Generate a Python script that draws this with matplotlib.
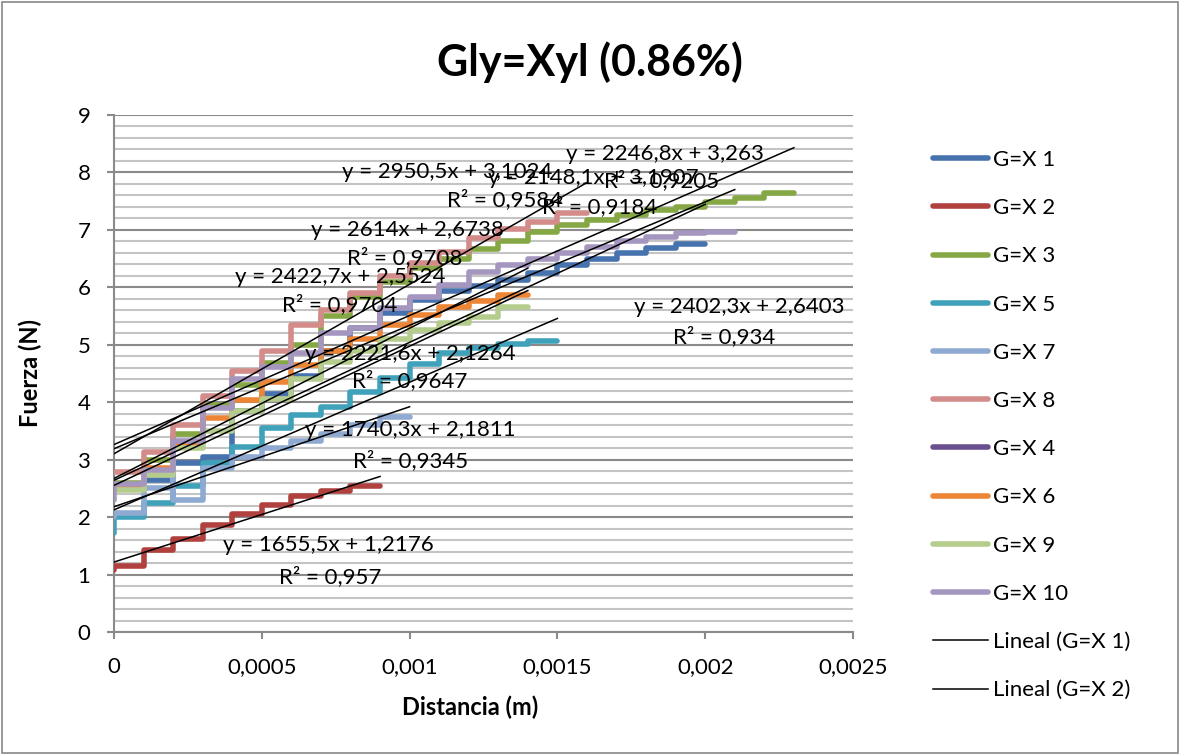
import matplotlib
matplotlib.use('Agg')
import matplotlib.pyplot as plt
from matplotlib.ticker import MultipleLocator, FuncFormatter
from matplotlib.lines import Line2D
from matplotlib.patches import Rectangle

plt.rcParams['font.family'] = ['Lato', 'DejaVu Sans']

# distance samples (m)
dist = [0, 0.0001, 0.0002, 0.0003, 0.0004, 0.0005, 0.0006, 0.0007, 0.0008,
        0.0009, 0.001, 0.0011, 0.0012, 0.0013, 0.0014, 0.0015, 0.0016, 0.0017,
        0.0018, 0.0019, 0.002, 0.0021, 0.0022, 0.0023]

# force level (N) held over each distance step
g1 = [2.5, 2.65, 2.95, 3.05, 3.85, 4.15, 4.45, 4.9, 5.3, 5.55, 5.78, 5.93,
      6.02, 6.13, 6.25, 6.38, 6.5, 6.6, 6.68, 6.75]
g2 = [1.15, 1.43, 1.62, 1.86, 2.06, 2.21, 2.36, 2.45, 2.55]
g3 = [2.6, 3.0, 3.45, 3.95, 4.3, 4.68, 5.0, 5.5, 5.84, 6.1, 6.33, 6.5, 6.66,
      6.8, 6.96, 7.08, 7.17, 7.26, 7.34, 7.4, 7.48, 7.55, 7.64]
g5 = [2.0, 2.24, 2.55, 2.95, 3.22, 3.55, 3.78, 3.92, 4.18, 4.42, 4.67, 4.85,
      4.95, 5.02, 5.07]
g7 = [2.07, 2.5, 2.3, 2.85, 3.05, 3.2, 3.33, 3.45, 3.6, 3.75]
g8 = [2.78, 3.14, 3.6, 4.1, 4.55, 4.9, 5.35, 5.6, 5.9, 6.2, 6.42, 6.62, 6.85,
      7.02, 7.14, 7.3]
g4 = []
g6 = [2.52, 2.85, 3.29, 3.72, 4.04, 4.36, 4.65, 4.9, 5.1, 5.35, 5.52, 5.65,
      5.76, 5.87]
g9 = [2.47, 2.73, 3.2, 3.5, 3.85, 4.05, 4.4, 4.7, 4.9, 5.1, 5.25, 5.38, 5.49,
      5.65]
g10 = [2.58, 2.82, 3.33, 3.9, 4.4, 4.62, 4.85, 5.2, 5.3, 5.64, 5.84, 6.04,
       6.27, 6.39, 6.5, 6.6, 6.71, 6.8, 6.88, 6.94, 6.97]

# first reading at x = 0 (before the first level), where visible
start = {'G=X 2': 1.08, 'G=X 5': 1.72, 'G=X 7': 2.0, 'G=X 10': 2.3}
# light-blue series goes up then back down at 0.0002
g7_peak = 2.7

names = ['G=X 1', 'G=X 2', 'G=X 3', 'G=X 5', 'G=X 7', 'G=X 8', 'G=X 4',
         'G=X 6', 'G=X 9', 'G=X 10']
levels = [g1, g2, g3, g5, g7, g8, g4, g6, g9, g10]
colors = ['#4672AE', '#B0413E', '#86A844', '#3FA1BA', '#8EAAD2', '#D38C8A',
          '#6B5090', '#EC8535', '#B5CD8C', '#A596C0']

# linear trendlines (slope, intercept, R2) per series; G=X 4 has none
trend = {
    'G=X 1': (2402.3, 2.6403, '0,934', '2402,3x + 2,6403'),
    'G=X 2': (1655.5, 1.2176, '0,957', '1655,5x + 1,2176'),
    'G=X 3': (2246.8, 3.263, '0,9205', '2246,8x + 3,263'),
    'G=X 5': (2221.6, 2.1264, '0,9647', '2221,6x + 2,1264'),
    'G=X 7': (1740.3, 2.1811, '0,9345', '1740,3x + 2,1811'),
    'G=X 8': (2950.5, 3.1024, '0,9584', '2950,5x + 3,1024'),
    'G=X 6': (2614.0, 2.6738, '0,9708', '2614x + 2,6738'),
    'G=X 9': (2422.7, 2.5524, '0,9704', '2422,7x + 2,5524'),
    'G=X 10': (2148.1, 3.1907, '0,9184', '2148,1x + 3,1907'),
}
# label positions (data coords): equation, then R2
label_pos = {
    'G=X 1': ((0.002115, 5.66), (0.002064, 5.14)),
    'G=X 2': ((0.000726, 1.51), (0.00073, 0.97)),
    'G=X 3': ((0.001865, 8.32), (0.001851, 7.85)),
    'G=X 5': ((0.001003, 4.84), (0.001, 4.37)),
    'G=X 7': ((0.001003, 3.52), (0.001003, 2.99)),
    'G=X 8': ((0.001128, 8.01), (0.001321, 7.52)),
    'G=X 6': ((0.000993, 7.0), (0.000983, 6.51)),
    'G=X 9': ((0.000764, 6.18), (0.000764, 5.69)),
    'G=X 10': ((0.001622, 7.90), (0.001642, 7.40)),
}

fig = plt.figure(figsize=(11.8, 7.55), dpi=100)
fig.patches.append(Rectangle((0.0015, 0.002), 0.997, 0.996, transform=fig.transFigure,
                             fill=False, edgecolor='#888888', linewidth=1.2))
ax = fig.add_axes([0.0966, 0.1629, 0.6263, 0.6848])

ends = {}
for name, lv, c in zip(names, levels, colors):
    if len(lv) == 0:
        ax.plot([], [], color=c, lw=4.0, label=name, solid_capstyle='round')
        continue
    xs = list(dist[:len(lv)])
    ys = list(lv)
    if name == 'G=X 7':
        xs.insert(2, dist[2])
        ys.insert(2, g7_peak)
    if name in start:
        xs.insert(0, 0)
        ys.insert(0, start[name])
    n = len(lv)
    xs.append(dist[n])
    ys.append(lv[-1])
    ends[name] = dist[n]
    ax.step(xs, ys, where='post', color=c, lw=4.0, label=name,
            solid_capstyle='round', solid_joinstyle='round', zorder=3)

for name in names:
    if name not in trend:
        continue
    m, b, r2, eq = trend[name]
    x1 = ends[name]
    ax.plot([0, x1], [b, m * x1 + b], color='black', lw=1.1, zorder=4)
    (ex, ey), (rx, ry) = label_pos[name]
    ax.text(ex, ey, 'y = ' + eq, ha='center', va='center', fontsize=16, zorder=5)
    ax.text(rx, ry, 'R² = ' + r2, ha='center', va='center', fontsize=16, zorder=5)

ax.set_xlim(0, 0.0025)
ax.set_ylim(0, 9)
ax.xaxis.set_major_locator(MultipleLocator(0.0005))
ax.yaxis.set_major_locator(MultipleLocator(1))
ax.yaxis.set_minor_locator(MultipleLocator(0.2))
ax.xaxis.set_major_formatter(FuncFormatter(lambda v, p: ('%g' % round(v, 5)).replace('.', ',')))
ax.grid(axis='y', which='major', color='#8A8A8A', lw=1.5, zorder=0)
ax.grid(axis='y', which='minor', color='#C4C4C4', lw=1.5, zorder=0)
ax.set_axisbelow(True)
for s in ['top', 'right']:
    ax.spines[s].set_visible(False)
for s in ['left', 'bottom']:
    ax.spines[s].set_color('#8A8A8A')
    ax.spines[s].set_linewidth(1.5)
ax.tick_params(axis='both', which='major', direction='out', length=5, width=1.5,
               color='#8A8A8A', labelsize=16)
ax.tick_params(axis='x', which='major', pad=13)
ax.tick_params(axis='y', which='major', pad=12)
ax.tick_params(axis='y', which='minor', length=0)

fig.text(470 / 1180, 1 - 707 / 755, 'Distancia (m)', ha='center', va='center',
         fontsize=17, fontweight='bold')
fig.text(30 / 1180, 1 - 373 / 755, 'Fuerza (N)', ha='center', va='center',
         fontsize=17, fontweight='bold', rotation=90)
fig.text(590 / 1180, 1 - 62 / 755, 'Gly=Xyl (0.86%)', ha='center', va='center',
         fontsize=31, fontweight='bold')

handles, labels = ax.get_legend_handles_labels()
handles += [Line2D([], [], color='black', lw=1.1), Line2D([], [], color='black', lw=1.1)]
labels += ['Lineal (G=X 1)', 'Lineal (G=X 2)']
fig.legend(handles, labels, loc='upper left', bbox_to_anchor=(0.7735, 0.828),
           frameon=False, fontsize=16, handlelength=2.5, handletextpad=0.2,
           labelspacing=1.27)

fig.savefig('out.png', dpi=100)
